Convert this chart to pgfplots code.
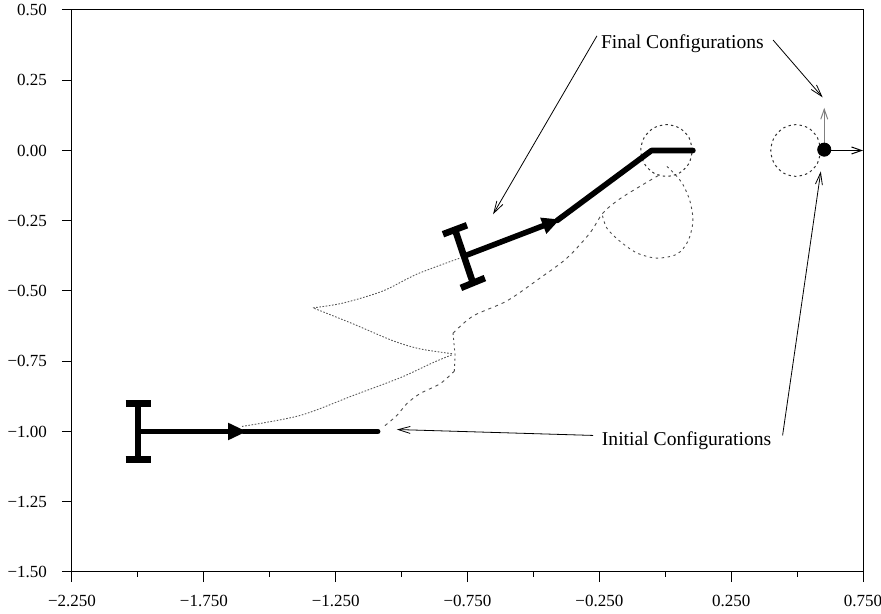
\documentclass[border=0pt]{standalone}
\usepackage{fontspec}
\setmainfont{Liberation Serif}
\usepackage{pgfplots}
\pgfplotsset{compat=1.18}
\usetikzlibrary{arrows.meta}

\begin{document}
\begin{tikzpicture}
\begin{axis}[
  scale only axis,
  width=395.5pt, height=281pt,
  xmin=-2.25, xmax=0.75, ymin=-1.5, ymax=0.5,
  xtick={-2.25,-1.75,-1.25,-0.75,-0.25,0.25,0.75},
  xticklabels={−2.250,−1.750,−1.250,−0.750,−0.250,0.250,0.750},
  minor xtick={-2,-1.5,-1,-0.5,0,0.5},
  ytick={-1.5,-1.25,-1,-0.75,-0.5,-0.25,0,0.25,0.5},
  yticklabels={−1.50,−1.25,−1.00,−0.75,−0.50,−0.25,0.00,0.25,0.50},
  tick pos=left,
  tick align=outside,
  major tick length=5pt,
  minor tick length=2.5pt,
  tick style={black, line width=0.5pt},
  axis line style={line width=0.5pt},
  ticklabel style={font=\fontsize{8.5}{10}\selectfont},
  xticklabel style={yshift=-3pt},
  yticklabel style={xshift=-4pt},
  clip=false,
]

% --- trajectories traced by the vehicle ---
\addplot[gray!70!black, line width=0.45pt, dash pattern=on 0.8pt off 0.8pt, smooth]
  coordinates {(-1.605,-0.982) (-1.385,-0.943) (-1.184,-0.872) (-1.006,-0.809) (-0.881,-0.755) (-0.809,-0.727)};
\addplot[gray!70!black, line width=0.45pt, dash pattern=on 0.8pt off 0.8pt, smooth]
  coordinates {(-0.809,-0.723) (-0.930,-0.706) (-1.033,-0.677) (-1.184,-0.617) (-1.336,-0.560)};
\addplot[gray!70!black, line width=0.45pt, dash pattern=on 0.8pt off 0.8pt, smooth]
  coordinates {(-1.336,-0.560) (-1.222,-0.543) (-1.071,-0.500) (-0.942,-0.440) (-0.779,-0.383)};

% front point: rise, short vertical stretch, sweep towards the goal
\addplot[gray!60!black, line width=0.45pt, dash pattern=on 1.6pt off 2pt, smooth]
  coordinates {(-1.063,-0.979) (-1.018,-0.943) (-0.980,-0.901) (-0.930,-0.865) (-0.854,-0.830) (-0.800,-0.785)};
\addplot[gray!60!black, line width=0.45pt, dash pattern=on 1.0pt off 1.6pt]
  coordinates {(-0.800,-0.785) (-0.797,-0.730) (-0.805,-0.650)};
\addplot[gray!60!black, line width=0.45pt, dash pattern=on 1.6pt off 2pt, smooth]
  coordinates {(-0.805,-0.650) (-0.729,-0.589) (-0.600,-0.535) (-0.475,-0.454) (-0.373,-0.383)
               (-0.286,-0.294) (-0.236,-0.222) (-0.172,-0.172) (-0.077,-0.117) (-0.013,-0.082)};
% loop under the goal circle
\addplot[gray!60!black, line width=0.45pt, dash pattern=on 1.2pt off 1.8pt, smooth]
  coordinates {(-0.238,-0.232) (-0.221,-0.277) (-0.172,-0.323) (-0.107,-0.365) (-0.032,-0.383)
               (0.044,-0.369) (0.086,-0.323) (0.105,-0.252) (0.094,-0.181) (0.067,-0.121)
               (0.037,-0.085) (-0.001,-0.050)};

% --- dotted circles ---
\addplot[black!80, line width=0.5pt, dash pattern=on 1.2pt off 1.6pt, smooth]
  coordinates {(0.103,0) (0.090,0.046) (0.054,0.080) (0.005,0.092) (-0.044,0.080) (-0.080,0.046)
               (-0.093,0) (-0.080,-0.046) (-0.044,-0.080) (0.005,-0.092) (0.054,-0.080) (0.090,-0.046) (0.103,0)};
\addplot[black!80, line width=0.5pt, dash pattern=on 1.2pt off 1.6pt, smooth]
  coordinates {(0.590,0) (0.577,0.046) (0.543,0.080) (0.495,0.092) (0.448,0.080) (0.413,0.046)
               (0.400,0) (0.413,-0.046) (0.448,-0.080) (0.495,-0.092) (0.543,-0.080) (0.577,-0.046) (0.590,0)};

% --- initial configuration ---
\addplot[line width=3.3pt] coordinates {(-2.0,-0.9) (-2.0,-1.1)};
\addplot[line width=3.3pt] coordinates {(-2.047,-0.9) (-1.952,-0.9)};
\addplot[line width=3.3pt] coordinates {(-2.047,-1.1) (-1.952,-1.1)};
\addplot[line width=2.6pt, -{Triangle[length=9.5pt,width=8pt]}] coordinates {(-2.0,-1.0) (-1.586,-1.0)};
\addplot[line width=2.6pt, line cap=round] coordinates {(-1.60,-1.0) (-1.09,-1.0)};

% --- final configuration ---
\addplot[line width=3.3pt] coordinates {(-0.798,-0.280) (-0.729,-0.472)};
\addplot[line width=3.3pt] coordinates {(-0.843,-0.298) (-0.752,-0.266)};
\addplot[line width=3.3pt] coordinates {(-0.775,-0.489) (-0.684,-0.454)};
\addplot[line width=2.8pt, -{Triangle[length=9pt,width=8pt]}] coordinates {(-0.7635,-0.376) (-0.399,-0.245)};
\addplot[line width=2.8pt, line cap=round, line join=round] coordinates {(-0.41,-0.249) (-0.052,0) (0.105,0)};

% --- point robot with its frame ---
\addplot[gray, line width=0.5pt, -{Straight Barb[length=5pt,width=3.5pt]}] coordinates {(0.603,0) (0.603,0.152)};
\addplot[black, line width=0.5pt, -{Straight Barb[length=5pt,width=3.5pt]}] coordinates {(0.603,0) (0.75,0)};
\addplot[only marks, mark=*, mark size=3.3pt, black] coordinates {(0.603,0.003)};

% --- annotations ---
\node[font=\fontsize{9.8}{12}\selectfont] at (axis cs:0.065,0.381) {Final Configurations};
\node[font=\fontsize{9.8}{12}\selectfont] at (axis cs:0.081,-1.032) {Initial Configurations};
\addplot[line width=0.4pt, -{Straight Barb[length=6pt,width=3.5pt]}] coordinates {(-0.259,0.408) (-0.653,-0.227)};
\addplot[line width=0.4pt, -{Straight Barb[length=6pt,width=3.5pt]}] coordinates {(0.409,0.393) (0.597,0.189)};
\addplot[line width=0.4pt, -{Straight Barb[length=6pt,width=3.5pt]}] coordinates {(-0.274,-1.014) (-1.018,-0.993)};
\addplot[line width=0.4pt, -{Straight Barb[length=6pt,width=3.5pt]}] coordinates {(0.445,-1.014) (0.590,-0.074)};
\end{axis}
\pgfresetboundingbox
\path[use as bounding box] ([xshift=-36pt,yshift=-21pt]current axis.south west) rectangle ([xshift=9pt,yshift=5pt]current axis.north east);
\end{tikzpicture}
\end{document}
